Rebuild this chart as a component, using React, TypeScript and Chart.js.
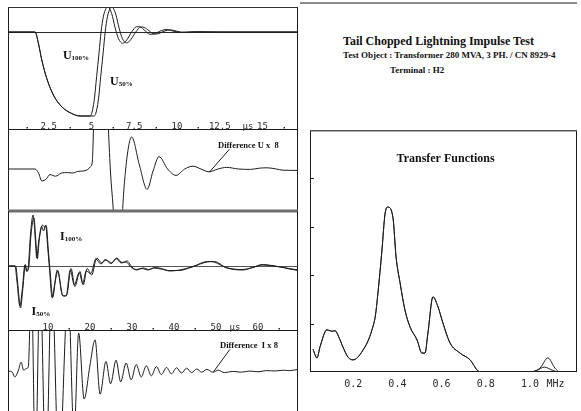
import React, { useEffect, useRef } from "react";
import { Chart, registerables } from "chart.js";

Chart.register(...registerables);

type Pt = [number, number];

// ---------------- data ----------------
// Panel 1 – tail chopped voltages (time in µs, normalised amplitude)
const u100: Pt[] = [
  [0.1, 0], [1.7, 0], [1.89, -0.13], [2.09, -0.33], [2.38, -0.55], [2.77, -0.75], [3.26, -0.89],
  [3.84, -0.97], [4.33, -1.0], [4.91, -1.0], [5.01, -0.97], [5.16, -0.81], [5.3, -0.53],
  [5.44, -0.25], [5.56, 0], [5.69, 0.18], [5.85, 0.28], [5.94, 0.3], [6.18, 0.22], [6.37, 0.06],
  [6.57, -0.075], [6.82, -0.135], [7.06, -0.095], [7.35, 0], [7.64, 0.063], [7.84, 0.06],
  [8.13, 0.016], [8.42, -0.027], [8.71, -0.02], [9.0, 0.01], [9.4, 0.03], [9.78, 0.01],
  [10.18, -0.005], [11.0, 0.003], [12.5, 0], [17.1, 0],
];
const u50: Pt[] = [
  [0.1, 0], [1.7, 0], [1.89, -0.13], [2.09, -0.33], [2.38, -0.55], [2.77, -0.75], [3.26, -0.89],
  [3.84, -0.97], [4.33, -1.0], [5.15, -1.0], [5.25, -0.97], [5.4, -0.81], [5.54, -0.53],
  [5.68, -0.25], [5.8, 0], [5.93, 0.18], [6.09, 0.28], [6.18, 0.3], [6.42, 0.21], [6.61, 0.05],
  [6.81, -0.08], [7.06, -0.13], [7.3, -0.09], [7.59, 0], [7.88, 0.06], [8.08, 0.055],
  [8.37, 0.014], [8.66, -0.025], [8.95, -0.018], [9.24, 0.01], [9.64, 0.025], [10.0, 0.008],
  [10.4, -0.004], [11.2, 0.002], [12.7, 0], [17.1, 0],
];
// Panel 2 – difference of voltages x 8
const diffU: Pt[] = [
  [0.1, 0], [1.7, 0], [1.9, -0.1], [2.1, -0.3], [2.35, -0.25], [2.57, -0.14], [2.9, -0.18],
  [3.25, -0.1], [3.6, -0.09], [3.9, -0.1], [4.2, -0.06], [4.5, -0.05], [4.75, -0.02],
  [4.95, 0.06], [5.05, 0.2], [5.15, 1.5], [5.35, 3], [5.8, 3], [5.97, 1.2], [6.1, 0],
  [6.3, -1.2], [6.5, -3], [6.65, -3], [6.8, -1.2], [7.0, 0], [7.35, 0.8], [7.8, 0.1],
  [8.25, -0.51], [8.6, -0.05], [8.95, 0.31], [9.45, 0.0], [9.94, -0.16], [10.45, 0],
  [10.94, 0.07], [11.4, 0], [11.87, -0.07], [12.4, 0], [12.9, 0.04], [13.6, 0.0], [14.3, -0.01],
  [14.8, 0.02], [15.3, 0.03], [15.8, 0.0], [16.2, -0.03], [17.1, -0.035],
];
// Panel 3 – currents (time in µs)
const i100: Pt[] = [
  [0.48, 0], [2.14, 0], [2.6, -0.3], [3.3, -0.8], [3.9, -0.45], [4.5, 0.02], [4.9, -0.11],
  [5.3, -0.02], [5.8, 0.6], [6.45, 1.02], [7.0, 0.5], [7.3, 0.16], [7.8, 0.5], [8.5, 0.79],
  [8.95, 0.7], [9.45, 0.82], [9.9, 0.4], [10.3, 0], [11.0, -0.64], [11.6, -0.35], [12.2, -0.08],
  [13.6, -0.6], [14.45, -0.58], [15.5, -0.05], [16.4, -0.41], [17.6, -0.11], [18.4, -0.38],
  [19.3, -0.05], [20.4, -0.18], [21.6, 0.16], [22.8, 0.06], [23.8, 0.12], [25.2, 0.06],
  [26.4, 0.16], [27.6, 0.07], [28.8, 0.1], [30.0, -0.02], [31.1, -0.08], [32.6, -0.04],
  [34.0, -0.07], [35.5, -0.03], [37.0, -0.05], [39.0, -0.1], [41.4, -0.08], [44.5, -0.01],
  [48.0, 0.09], [49.5, 0.08], [52.6, -0.04], [56.4, -0.08], [59.0, -0.02], [61.2, 0.02],
  [63.5, 0.0], [65.5, -0.02], [67.5, -0.06], [69.6, -0.09],
];
const i50: Pt[] = [
  [0.48, 0], [2.3, 0], [2.8, -0.35], [3.45, -0.84], [4.05, -0.42], [4.6, 0.03], [5.0, -0.1],
  [5.45, 0.0], [5.95, 0.62], [6.65, 0.96], [7.15, 0.45], [7.45, 0.14], [7.95, 0.55], [8.7, 0.82],
  [9.2, 0.78], [9.6, 0.8], [10.05, 0.35], [10.45, -0.05], [11.15, -0.62], [11.75, -0.3],
  [12.35, -0.1], [13.4, -0.58], [14.3, -0.6], [15.3, -0.08], [16.25, -0.38], [17.45, -0.13],
  [18.25, -0.35], [19.1, -0.1], [20.2, -0.15], [21.4, 0.14], [22.6, 0.04], [23.6, 0.13],
  [25.0, 0.05], [26.2, 0.15], [27.4, 0.06], [28.6, 0.08], [29.8, -0.03], [31.0, -0.07],
  [32.4, -0.05], [33.8, -0.08], [35.3, -0.04], [36.8, -0.06], [38.8, -0.09], [41.2, -0.09],
  [44.3, -0.02], [47.8, 0.08], [49.6, 0.09], [52.4, -0.03], [56.2, -0.07], [58.8, -0.03],
  [61.0, 0.03], [63.3, 0.01], [65.3, -0.02], [67.4, -0.05], [69.6, -0.08],
];
// Panel 4 – difference of currents x 8
const diffI: Pt[] = [
  [0.48, 0], [1.5, -0.03], [2.1, -0.15], [2.9, 0.0], [3.6, 0.22], [4.2, 0.02], [4.8, 0.06],
  [5.3, 0.1], [6.05, 2.2], [7.0, -2.4], [8.1, 2.4], [9.5, -2.6], [10.9, 2.3], [12.6, -2.5],
  [14.8, 2.0], [16.2, -1.6], [17.3, 0.95], [18.6, -0.7], [20.0, 0.15], [21.2, 0.78],
  [22.4, -0.58], [23.8, 0.24], [24.9, -0.32], [26.2, 0.27], [27.3, -0.27], [28.6, 0.2],
  [29.8, -0.22], [31.0, 0.16], [32.2, -0.15], [33.4, 0.13], [34.6, -0.12], [35.8, 0.11],
  [37.0, -0.09], [38.2, 0.09], [39.4, -0.07], [40.6, 0.08], [41.8, -0.05], [43.0, 0.07],
  [44.2, -0.04], [45.4, 0.05], [46.6, -0.03], [47.8, 0.04], [49.3, -0.03], [50.5, 0.02],
  [52.0, -0.04], [54.0, -0.01], [56.0, -0.03], [58.0, 0.0], [60.0, -0.02], [62.0, 0.01],
  [64.0, 0.0], [66.0, 0.02], [67.5, 0.01], [69.6, 0.04],
];
// Right panel – transfer functions (frequency in MHz)
const tf100: Pt[] = [
  [0.018, 0.47], [0.036, 0.29], [0.05, 0.52], [0.081, 0.87], [0.103, 0.84], [0.118, 0.85],
  [0.135, 0.72], [0.154, 0.51], [0.176, 0.31], [0.199, 0.25], [0.22, 0.3], [0.244, 0.45],
  [0.265, 0.62], [0.285, 0.87], [0.3, 1.15], [0.312, 1.63], [0.33, 2.51], [0.344, 3.26],
  [0.357, 3.4], [0.38, 3.18], [0.394, 2.37], [0.412, 1.84], [0.434, 1.28], [0.457, 0.93],
  [0.489, 0.66], [0.511, 0.39], [0.525, 0.39], [0.538, 0.8], [0.561, 1.55], [0.584, 1.34],
  [0.606, 1.01], [0.638, 0.6], [0.683, 0.39], [0.729, 0.25], [0.765, 0.02], [0.783, 0],
  [1.0, 0], [1.045, 0.08], [1.081, 0.29], [1.113, 0.08], [1.136, 0], [1.21, 0],
];
const tf50: Pt[] = [
  [0.018, 0.47], [0.036, 0.29], [0.05, 0.52], [0.081, 0.87], [0.103, 0.84], [0.118, 0.85],
  [0.135, 0.72], [0.154, 0.51], [0.176, 0.31], [0.199, 0.25], [0.22, 0.3], [0.244, 0.45],
  [0.265, 0.62], [0.285, 0.87], [0.3, 1.15], [0.312, 1.63], [0.33, 2.51], [0.344, 3.26],
  [0.357, 3.4], [0.38, 3.18], [0.394, 2.37], [0.412, 1.84], [0.434, 1.28], [0.457, 0.93],
  [0.489, 0.66], [0.511, 0.39], [0.525, 0.39], [0.538, 0.8], [0.561, 1.55], [0.584, 1.34],
  [0.606, 1.01], [0.638, 0.6], [0.683, 0.39], [0.729, 0.25], [0.765, 0.02], [0.783, 0],
  [1.0, 0], [1.03, 0.03], [1.065, 0.1], [1.1, 0.04], [1.13, 0], [1.21, 0],
];

// tick labels
const uTicks = [2.5, 5, 7.5, 10, 12.5, 15];
const uTickLabels = ["2.5", "5", "7.5", "10", "12.5", "15"];
const uMinorTicks = [1.25, 3.75, 6.25, 8.75, 11.25, 16.25];
const iTicks = [10, 20, 30, 40, 50, 60];
const iTickLabels = ["10", "20", "30", "40", "50", "60"];
const iMinorTicks = [15, 25, 35, 45, 65];
const tfTicks = [0.2, 0.4, 0.6, 0.8, 1.0];
const tfTickLabels = ["0.2", "0.4", "0.6", "0.8", "1.0"];
const tfYTicks = [1, 2, 3, 4];

// ---------------- drawing helpers ----------------
const INK = "#1c1c1c";
const MONO = '"DejaVu Sans Mono", monospace';
const SERIF = '"Liberation Serif", "Times New Roman", serif';

type Edge = { side: "top" | "bottom" | "left" | "right"; color: string; width: number; off?: number };
type Note = { x: number; y: number; text: string; sub?: string; size: number; subSize?: number };
type Decor = {
  edges: Edge[];
  zero?: { color: string; width: number };
  ticks?: { values: number[]; labels: string[]; minor?: number[]; unit?: { text: string; at: number }; below?: boolean; size: number };
  yTicks?: number[];
  notes?: Note[];
  leaders?: { x1: number; y1: number; x2: number; y2: number }[];
};

function makeDecor(d: Decor) {
  return {
    id: "decor",
    beforeDatasetsDraw(chart: any) {
      const { ctx, chartArea: a, scales } = chart;
      if (d.zero) {
        const y = Math.round(scales.y.getPixelForValue(0)) + 0.5;
        ctx.save();
        ctx.strokeStyle = d.zero.color;
        ctx.lineWidth = d.zero.width;
        ctx.beginPath();
        ctx.moveTo(a.left, y);
        ctx.lineTo(a.right, y);
        ctx.stroke();
        ctx.restore();
      }
    },
    afterDatasetsDraw(chart: any) {
      const { ctx, chartArea: a, scales } = chart;
      const xs = scales.x;
      const ys = scales.y;
      ctx.save();
      for (const e of d.edges) {
        ctx.strokeStyle = e.color;
        ctx.lineWidth = e.width;
        const off = e.off ?? e.width / 2;
        ctx.beginPath();
        if (e.side === "top") { ctx.moveTo(a.left, a.top + off); ctx.lineTo(a.right, a.top + off); }
        if (e.side === "bottom") { ctx.moveTo(a.left, a.bottom - off); ctx.lineTo(a.right, a.bottom - off); }
        if (e.side === "left") { ctx.moveTo(a.left + off, a.top); ctx.lineTo(a.left + off, a.bottom); }
        if (e.side === "right") { ctx.moveTo(a.right - off, a.top); ctx.lineTo(a.right - off, a.bottom); }
        ctx.stroke();
      }
      if (d.yTicks) {
        ctx.strokeStyle = INK;
        ctx.lineWidth = 1;
        for (const v of d.yTicks) {
          const y = Math.round(ys.getPixelForValue(v)) + 0.5;
          ctx.beginPath();
          ctx.moveTo(a.left, y);
          ctx.lineTo(a.left + 4, y);
          ctx.stroke();
        }
      }
      if (d.ticks) {
        const t = d.ticks;
        ctx.fillStyle = "#2a2a2a";
        ctx.font = `${t.size}px ${MONO}`;
        ctx.textAlign = "center";
        ctx.textBaseline = t.below ? "middle" : "alphabetic";
        const ty = t.below ? a.bottom + 12 : a.bottom - 1.5;
        t.values.forEach((v, i) => ctx.fillText(t.labels[i], xs.getPixelForValue(v), ty));
        if (t.unit) ctx.fillText(t.unit.text, xs.getPixelForValue(t.unit.at), ty);
        (t.minor || []).forEach((v) => {
          ctx.fillRect(Math.round(xs.getPixelForValue(v)) - 0.5, a.bottom - 3, 1.5, 1.5);
        });
      }
      if (d.leaders) {
        ctx.strokeStyle = INK;
        ctx.lineWidth = 1;
        for (const l of d.leaders) {
          ctx.beginPath();
          ctx.moveTo(xs.getPixelForValue(l.x1), ys.getPixelForValue(l.y1));
          ctx.lineTo(xs.getPixelForValue(l.x2), ys.getPixelForValue(l.y2));
          ctx.stroke();
        }
      }
      if (d.notes) {
        ctx.fillStyle = "#111";
        ctx.textAlign = "left";
        ctx.textBaseline = "alphabetic";
        for (const n of d.notes) {
          const px = xs.getPixelForValue(n.x);
          const py = ys.getPixelForValue(n.y);
          ctx.font = `bold ${n.size}px ${SERIF}`;
          ctx.fillText(n.text, px, py);
          if (n.sub) {
            const w = ctx.measureText(n.text).width;
            ctx.font = `bold ${n.subSize}px ${SERIF}`;
            ctx.fillText(n.sub, px + w, py + 1.5);
          }
        }
      }
      ctx.restore();
    },
  };
}

type Spec = {
  series: { pts: Pt[]; width?: number; color?: string }[];
  x: [number, number];
  y: [number, number];
  pad: { left: number; top: number; right: number; bottom: number };
  decor: Decor;
};

function buildConfig(s: Spec): any {
  return {
    type: "line",
    data: {
      datasets: s.series.map((d) => ({
        data: d.pts.map(([x, y]) => ({ x, y })),
        borderColor: d.color ?? INK,
        borderWidth: d.width ?? 1,
        pointRadius: 0,
        cubicInterpolationMode: "monotone",
        fill: false,
      })),
    },
    options: {
      responsive: false,
      animation: false,
      events: [],
      layout: { padding: s.pad },
      scales: {
        x: { type: "linear", min: s.x[0], max: s.x[1], display: false },
        y: { type: "linear", min: s.y[0], max: s.y[1], display: false },
      },
      plugins: { legend: { display: false }, tooltip: { enabled: false }, title: { display: false } },
    },
    plugins: [makeDecor(s.decor)],
  };
}

const side = (c = INK, w = 1): Edge[] => [
  { side: "left", color: c, width: w },
  { side: "right", color: c, width: w },
];

// left column canvas: 300 x 411; panels share the x borders 8..298
const uRange: [number, number] = [0.117, 17.076];
const iRange: [number, number] = [0.476, 69.52];

const specs: { spec: Spec; left: number; top: number; w: number; h: number }[] = [
  {
    left: 0, top: 0, w: 300, h: 411,
    spec: {
      series: [{ pts: u100 }, { pts: u50 }],
      x: uRange, y: [-1.1667, 0.2976],
      pad: { left: 8, right: 2, top: 7, bottom: 281 },
      decor: {
        edges: [...side(), { side: "top", color: "#333", width: 1 }, { side: "bottom", color: INK, width: 1 }],
        zero: { color: "#2a2a2a", width: 1 },
        ticks: { values: uTicks, labels: uTickLabels, minor: uMinorTicks, unit: { text: "µs", at: 14.15 }, size: 9 },
        notes: [
          { x: 3.33, y: -0.32, text: "U", sub: "100%", size: 12, subSize: 7 },
          { x: 6.08, y: -0.63, text: "U", sub: "50%", size: 12, subSize: 7 },
        ],
      },
    },
  },
  {
    left: 0, top: 0, w: 300, h: 411,
    spec: {
      series: [{ pts: diffU }],
      x: uRange, y: [-1.05, 0.975],
      pad: { left: 8, right: 2, top: 130, bottom: 200 },
      decor: {
        edges: [...side(), { side: "bottom", color: "#6e6e6e", width: 3, off: 0 }],
        notes: [{ x: 12.4, y: 0.52, text: "Difference U x  8", size: 8.5 }],
        leaders: [{ x1: 13.06, y1: 0.49, x2: 11.89, y2: -0.08 }],
      },
    },
  },
  {
    left: 0, top: 0, w: 300, h: 411,
    spec: {
      series: [{ pts: i100 }, { pts: i50 }],
      x: iRange, y: [-1.3, 1.1],
      pad: { left: 8, right: 2, top: 211, bottom: 80 },
      decor: {
        edges: [...side(), { side: "bottom", color: INK, width: 1 }],
        zero: { color: "#555", width: 1 },
        ticks: { values: iTicks, labels: iTickLabels, minor: iMinorTicks, unit: { text: "µs", at: 54.5 }, size: 9 },
        notes: [
          { x: 12.86, y: 0.53, text: "I", sub: "100%", size: 12, subSize: 7 },
          { x: 6.1, y: -0.97, text: "I", sub: "50%", size: 12, subSize: 7 },
        ],
      },
    },
  },
  {
    left: 0, top: 0, w: 300, h: 411,
    spec: {
      series: [{ pts: diffI }],
      x: iRange, y: [-1.0, 1.0],
      pad: { left: 8, right: 2, top: 331, bottom: 0 },
      decor: {
        edges: [...side()],
        notes: [{ x: 50.95, y: 0.57, text: "Difference  I x 8", size: 8.5 }],
        leaders: [{ x1: 53.3, y1: 0.54, x2: 49.4, y2: -0.02 }],
      },
    },
  },
  {
    left: 300, top: 0, w: 281, h: 411,
    spec: {
      series: [{ pts: tf100 }, { pts: tf50 }],
      x: [0.0045, 1.2127], y: [0, 4.99],
      pad: { left: 10, right: 4, top: 130, bottom: 39 },
      decor: {
        edges: [
          { side: "left", color: INK, width: 1 },
          { side: "right", color: INK, width: 1 },
          { side: "top", color: "#555", width: 1.5 },
          { side: "bottom", color: INK, width: 1 },
        ],
        yTicks: tfYTicks,
        ticks: { values: tfTicks, labels: tfTickLabels, unit: { text: "MHz", at: 1.115 }, below: true, size: 10 },
        notes: [{ x: 0.396, y: 4.32, text: "Transfer Functions", size: 12 }],
      },
    },
  },
];

function ChartCanvas({ spec, left, top, w, h }: { spec: Spec; left: number; top: number; w: number; h: number }) {
  const ref = useRef<HTMLCanvasElement>(null);
  useEffect(() => {
    const chart = new Chart(ref.current as HTMLCanvasElement, buildConfig(spec));
    return () => chart.destroy();
  }, [spec]);
  return (
    <canvas
      ref={ref}
      width={w}
      height={h}
      style={{ position: "absolute", left, top, width: w, height: h }}
    />
  );
}

export default function App() {
  return (
    <div
      style={{
        position: "absolute",
        left: 0,
        top: 0,
        width: 581,
        height: 411,
        overflow: "hidden",
        background: "#ffffff",
        fontFamily: SERIF,
        color: "#111",
      }}
    >
      <div style={{ position: "absolute", left: 300, top: 2, width: 277, height: 2, background: "#8c8c8c" }} />
      <div style={{ position: "absolute", left: 343, top: 35, fontSize: 12, lineHeight: "12px", fontWeight: "bold", whiteSpace: "nowrap" }}>
        Tail Chopped Lightning Impulse Test
      </div>
      <div style={{ position: "absolute", left: 343, top: 50.5, fontSize: 9, lineHeight: "9px", fontWeight: "bold", whiteSpace: "nowrap" }}>
        Test Object : Transformer 280 MVA, 3 PH. / CN 8929-4
      </div>
      <div style={{ position: "absolute", left: 390, top: 66, fontSize: 9, lineHeight: "9px", fontWeight: "bold", whiteSpace: "nowrap" }}>
        Terminal : H2
      </div>
      {specs.map((s, i) => (
        <ChartCanvas key={i} spec={s.spec} left={s.left} top={s.top} w={s.w} h={s.h} />
      ))}
    </div>
  );
}
